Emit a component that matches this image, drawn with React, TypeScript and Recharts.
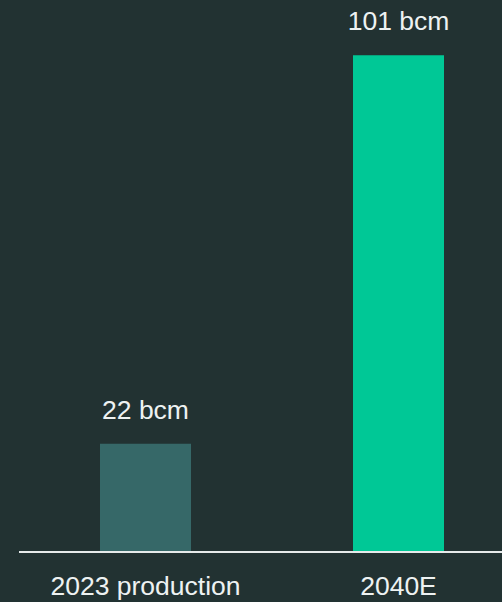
import { BarChart, Bar, XAxis, YAxis, Cell, LabelList } from 'recharts'

const categories = ['2023 production', '2040E']
const values = [22, 101]
const valueLabels = ['22 bcm', '101 bcm']
const barColors = ['#366868', '#00c896']

const data = categories.map((name, i) => ({ name, value: values[i], label: valueLabels[i] }))

const FONT = '"Liberation Sans", Arial, sans-serif'

export default function App() {
    return (
        <div style={{ position: 'absolute', left: 0, top: 0, width: 502, height: 602, overflow: 'hidden', background: '#223232' }}>
            <BarChart
                width={530}
                height={602}
                data={data}
                margin={{ top: 11, right: 5, left: 19, bottom: 0 }}
                barSize={91}
            >
                <XAxis
                    dataKey="name"
                    axisLine={{ stroke: '#e6eaea', strokeWidth: 2 }}
                    tickLine={false}
                    tickMargin={18}
                    height={50}
                    tick={{ fill: '#eef2f2', fontSize: 26.5, fontFamily: FONT }}
                    interval={0}
                />
                <YAxis hide domain={[0, 110]} />
                <Bar dataKey="value" isAnimationActive={false}>
                    {data.map((entry, index) => (
                        <Cell key={`cell-${index}`} fill={barColors[index]} />
                    ))}
                    <LabelList
                        dataKey="label"
                        position="top"
                        offset={25}
                        fill="#eef2f2"
                        fontSize={26.5}
                        fontFamily={FONT}
                    />
                </Bar>
            </BarChart>
        </div>
    )
}
